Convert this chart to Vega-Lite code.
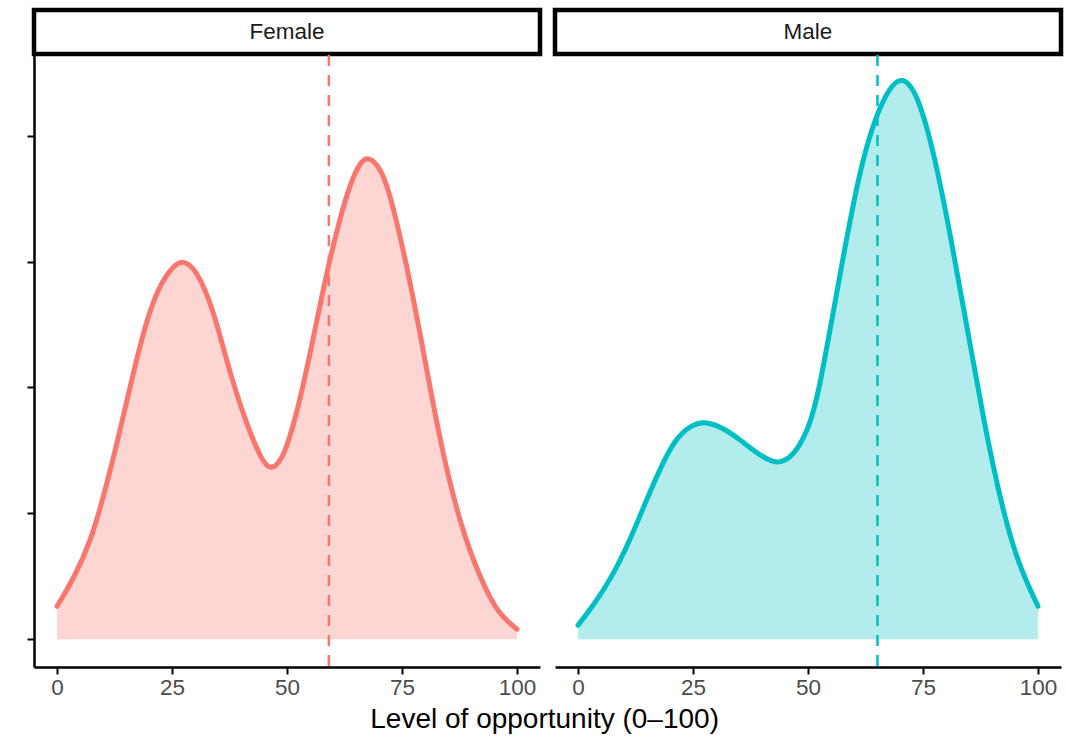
{
  "$schema": "https://vega.github.io/schema/vega-lite/v6.json",
  "background": "white",
  "padding": {"left": 26, "top": 7, "right": 6, "bottom": 4},
  "config": {
    "font": "Liberation Sans",
    "axis": {"grid": false, "labelFont": "Liberation Sans", "titleFont": "Liberation Sans"}
  },
  "datasets": {
    "curves": [
      {"sex": "Female", "x": 0, "density": 0.00131},
      {"sex": "Female", "x": 3.8, "density": 0.00246},
      {"sex": "Female", "x": 7.4, "density": 0.00393},
      {"sex": "Female", "x": 10.3, "density": 0.00579},
      {"sex": "Female", "x": 13.2, "density": 0.0079},
      {"sex": "Female", "x": 15.7, "density": 0.00988},
      {"sex": "Female", "x": 18.3, "density": 0.01186},
      {"sex": "Female", "x": 20.4, "density": 0.01317},
      {"sex": "Female", "x": 22.6, "density": 0.01413},
      {"sex": "Female", "x": 25.1, "density": 0.0148},
      {"sex": "Female", "x": 27.5, "density": 0.01508},
      {"sex": "Female", "x": 30, "density": 0.01468},
      {"sex": "Female", "x": 32, "density": 0.01397},
      {"sex": "Female", "x": 34.5, "density": 0.01275},
      {"sex": "Female", "x": 37.8, "density": 0.0104},
      {"sex": "Female", "x": 41.5, "density": 0.00841},
      {"sex": "Female", "x": 44.3, "density": 0.00718},
      {"sex": "Female", "x": 46.5, "density": 0.00665},
      {"sex": "Female", "x": 49.4, "density": 0.00722},
      {"sex": "Female", "x": 52.3, "density": 0.00909},
      {"sex": "Female", "x": 55.2, "density": 0.01147},
      {"sex": "Female", "x": 58.1, "density": 0.01413},
      {"sex": "Female", "x": 60.5, "density": 0.016},
      {"sex": "Female", "x": 63.2, "density": 0.01782},
      {"sex": "Female", "x": 65.5, "density": 0.01885},
      {"sex": "Female", "x": 67.5, "density": 0.0192},
      {"sex": "Female", "x": 69.8, "density": 0.01882},
      {"sex": "Female", "x": 71.9, "density": 0.01809},
      {"sex": "Female", "x": 76.2, "density": 0.01476},
      {"sex": "Female", "x": 79.9, "density": 0.01119},
      {"sex": "Female", "x": 83.5, "density": 0.00762},
      {"sex": "Female", "x": 87.8, "density": 0.00444},
      {"sex": "Female", "x": 92.2, "density": 0.00234},
      {"sex": "Female", "x": 95.8, "density": 0.00103},
      {"sex": "Female", "x": 100, "density": 0.0004},
      {"sex": "Male", "x": 0, "density": 0.00056},
      {"sex": "Male", "x": 3.5, "density": 0.00139},
      {"sex": "Male", "x": 7.2, "density": 0.00242},
      {"sex": "Male", "x": 11, "density": 0.0038},
      {"sex": "Male", "x": 15.1, "density": 0.00563},
      {"sex": "Male", "x": 18, "density": 0.00683},
      {"sex": "Male", "x": 20.9, "density": 0.0079},
      {"sex": "Male", "x": 24.6, "density": 0.00852},
      {"sex": "Male", "x": 27.8, "density": 0.00866},
      {"sex": "Male", "x": 31.8, "density": 0.00837},
      {"sex": "Male", "x": 35.4, "density": 0.0079},
      {"sex": "Male", "x": 39.1, "density": 0.00736},
      {"sex": "Male", "x": 43.4, "density": 0.0069},
      {"sex": "Male", "x": 47, "density": 0.0073},
      {"sex": "Male", "x": 49.9, "density": 0.00829},
      {"sex": "Male", "x": 52.1, "density": 0.00948},
      {"sex": "Male", "x": 57.2, "density": 0.01476},
      {"sex": "Male", "x": 61.5, "density": 0.01895},
      {"sex": "Male", "x": 65.9, "density": 0.0214},
      {"sex": "Male", "x": 70.1, "density": 0.0225},
      {"sex": "Male", "x": 73.8, "density": 0.0217},
      {"sex": "Male", "x": 77.5, "density": 0.01925},
      {"sex": "Male", "x": 81.1, "density": 0.01591},
      {"sex": "Male", "x": 84.7, "density": 0.01226},
      {"sex": "Male", "x": 88.3, "density": 0.00857},
      {"sex": "Male", "x": 92, "density": 0.00536},
      {"sex": "Male", "x": 95.6, "density": 0.00302},
      {"sex": "Male", "x": 100, "density": 0.00131}
    ],
    "means": [
      {"sex": "Female", "mean": 59.1},
      {"sex": "Male", "mean": 65.1}
    ],
    "strips": [
      {"sex": "Female"},
      {"sex": "Male"}
    ]
  },
  "title": {
    "text": "Level of opportunity (0–100)",
    "orient": "bottom",
    "anchor": "middle",
    "fontSize": 28,
    "font": "Liberation Sans",
    "fontWeight": "normal",
    "color": "black",
    "offset": 7
  },
  "columns": 2,
  "bounds": "flush",
  "spacing": {"row": 1, "column": 15},
  "concat": [
    {
      "width": 506,
      "height": 44,
      "view": {"stroke": "black", "strokeWidth": 4.5, "fill": "white"},
      "data": {"name": "strips"},
      "transform": [{"filter": "datum.sex == 'Female'"}],
      "mark": {"type": "text", "fontSize": 22.5, "color": "#1A1A1A", "font": "Liberation Sans"},
      "encoding": {"text": {"field": "sex"}}
    },
    {
      "width": 506,
      "height": 44,
      "view": {"stroke": "black", "strokeWidth": 4.5, "fill": "white"},
      "data": {"name": "strips"},
      "transform": [{"filter": "datum.sex == 'Male'"}],
      "mark": {"type": "text", "fontSize": 22.5, "color": "#1A1A1A", "font": "Liberation Sans"},
      "encoding": {"text": {"field": "sex"}}
    },
    {
      "width": 506,
      "height": 612,
      "view": {"stroke": null},
      "layer": [
        {
          "data": {"name": "curves"},
          "transform": [{"filter": "datum.sex == 'Female'"}],
          "mark": {"type": "area", "interpolate": "basis", "opacity": 0.3},
          "encoding": {
            "x": {"field": "x", "type": "quantitative", "scale": {"domain": [-5, 105], "nice": false, "zero": false},
              "axis": {"values": [0, 25, 50, 75, 100], "title": null, "domainColor": "black", "domainWidth": 2.5, "tickColor": "black", "tickWidth": 2, "tickSize": 7, "labelFontSize": 22.5, "labelColor": "#4D4D4D", "labelPadding": 2}},
            "y": {"field": "density", "type": "quantitative", "scale": {"domain": [-0.0011, 0.0232], "nice": false, "zero": false},
              "axis": {"values": [0, 0.005, 0.01, 0.015, 0.02], "labels": false, "title": null, "domainColor": "black", "domainWidth": 2.5, "tickColor": "black", "tickWidth": 2, "tickSize": 7}},
            "y2": {"datum": 0},
            "color": {"field": "sex", "type": "nominal", "scale": {"domain": ["Female", "Male"], "range": ["#F8766D", "#00BFC4"]}, "legend": null}
          }
        },
        {
          "data": {"name": "curves"},
          "transform": [{"filter": "datum.sex == 'Female'"}],
          "mark": {"type": "line", "interpolate": "basis", "strokeWidth": 5, "strokeCap": "round"},
          "encoding": {
            "x": {"field": "x", "type": "quantitative"},
            "y": {"field": "density", "type": "quantitative"},
            "color": {"field": "sex", "type": "nominal", "legend": null}
          }
        },
        {
          "data": {"name": "means"},
          "transform": [{"filter": "datum.sex == 'Female'"}],
          "mark": {"type": "rule", "strokeWidth": 2.5, "strokeDash": [11, 9]},
          "encoding": {
            "x": {"field": "mean", "type": "quantitative"},
            "color": {"field": "sex", "type": "nominal", "legend": null}
          }
        }
      ]
    },
    {
      "width": 506,
      "height": 612,
      "view": {"stroke": null},
      "layer": [
        {
          "data": {"name": "curves"},
          "transform": [{"filter": "datum.sex == 'Male'"}],
          "mark": {"type": "area", "interpolate": "basis", "opacity": 0.3},
          "encoding": {
            "x": {"field": "x", "type": "quantitative", "scale": {"domain": [-5, 105], "nice": false, "zero": false},
              "axis": {"values": [0, 25, 50, 75, 100], "title": null, "domainColor": "black", "domainWidth": 2.5, "tickColor": "black", "tickWidth": 2, "tickSize": 7, "labelFontSize": 22.5, "labelColor": "#4D4D4D", "labelPadding": 2}},
            "y": {"field": "density", "type": "quantitative", "scale": {"domain": [-0.0011, 0.0232], "nice": false, "zero": false}, "axis": null},
            "y2": {"datum": 0},
            "color": {"field": "sex", "type": "nominal", "scale": {"domain": ["Female", "Male"], "range": ["#F8766D", "#00BFC4"]}, "legend": null}
          }
        },
        {
          "data": {"name": "curves"},
          "transform": [{"filter": "datum.sex == 'Male'"}],
          "mark": {"type": "line", "interpolate": "basis", "strokeWidth": 5, "strokeCap": "round"},
          "encoding": {
            "x": {"field": "x", "type": "quantitative"},
            "y": {"field": "density", "type": "quantitative"},
            "color": {"field": "sex", "type": "nominal", "legend": null}
          }
        },
        {
          "data": {"name": "means"},
          "transform": [{"filter": "datum.sex == 'Male'"}],
          "mark": {"type": "rule", "strokeWidth": 2.5, "strokeDash": [11, 9]},
          "encoding": {
            "x": {"field": "mean", "type": "quantitative"},
            "color": {"field": "sex", "type": "nominal", "legend": null}
          }
        }
      ]
    }
  ]
}
